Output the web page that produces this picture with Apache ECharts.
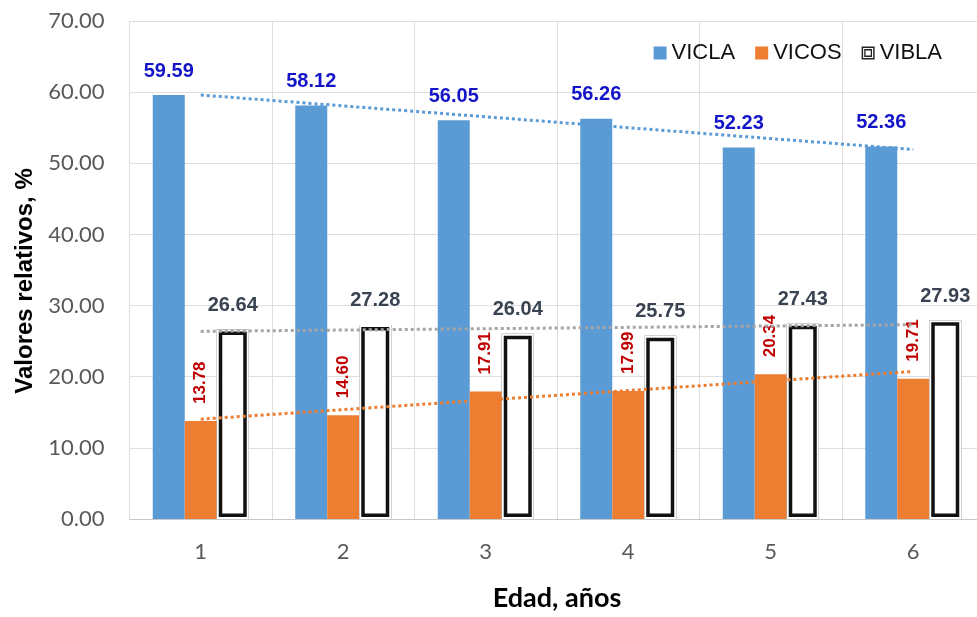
<!DOCTYPE html>
<html><head><meta charset="utf-8">
<script src="https://cdn.jsdelivr.net/npm/echarts@6/dist/echarts.min.js"></script>
<style>html,body{margin:0;padding:0;background:#fff;overflow:hidden;width:977px;height:617px}#c{width:985px;height:617px}</style>
</head><body><div id="c"></div>
<script>
const categories = ['1', '2', '3', '4', '5', '6'];
const vicla = [59.59, 58.12, 56.05, 56.26, 52.23, 52.36];
const vicos = [13.78, 14.60, 17.91, 17.99, 20.34, 19.71];
const vibla = [26.64, 27.28, 26.04, 25.75, 27.43, 27.93];
const seriesNames = ['VICLA', 'VICOS', 'VIBLA'];
const yTickValues = [0, 10, 20, 30, 40, 50, 60, 70];
const xTitle = 'Edad, años';
const yTitle = 'Valores relativos, %';

// Excel-style linear trendline (least squares) evaluated at each category
function linearTrend(vals) {
  const n = vals.length;
  const xs = vals.map((_, i) => i + 1);
  const mx = xs.reduce((a, b) => a + b, 0) / n;
  const my = vals.reduce((a, b) => a + b, 0) / n;
  let sxy = 0, sxx = 0;
  for (let i = 0; i < n; i++) { sxy += (xs[i] - mx) * (vals[i] - my); sxx += (xs[i] - mx) * (xs[i] - mx); }
  const b = sxy / sxx, a = my - b * mx;
  return xs.map(x => a + b * x);
}

const LBL = "'Liberation Sans Narrow','Arial Narrow','Liberation Sans',Arial,sans-serif";
const SANS = "'Liberation Sans',Arial,sans-serif";
const HUMAN = "Lato,'Open Sans',sans-serif";
const BLUE = '#5B9BD5', ORANGE = '#ED7D31', GRAY = '#A5A5A5';
const BAR_W = 32;

const chart = echarts.init(document.getElementById('c'), null, {renderer: 'canvas'});
chart.setOption({
  animation: false,
  backgroundColor: '#fff',
  grid: {left: 129.5, right: 0.5, top: 21, bottom: 95.5, containLabel: false},
  legend: {
    right: 38, top: 37,
    itemWidth: 13, itemHeight: 13, itemGap: 20,
    textStyle: {fontFamily: SANS, fontSize: 22, color: '#111'},
    data: [
      {name: 'VICLA', icon: 'rect'},
      {name: 'VICOS', icon: 'rect'},
      {name: 'VIBLA', icon: 'path://M0,0H18V18H0Z M2,2V16H16V2Z M3.6,3.6H14.4V14.4H3.6Z M5.4,5.4V12.6H12.6V5.4Z',
       itemStyle: {color: '#222', borderWidth: 0}}
    ]
  },
  xAxis: [{
    type: 'category', data: categories,
    name: xTitle, nameLocation: 'middle', nameGap: 66,
    nameTextStyle: {fontFamily: HUMAN, fontWeight: 'bold', fontSize: 27, color: '#000'},
    axisLine: {lineStyle: {color: '#C8C8C8', width: 1}},
    axisTick: {show: false},
    axisLabel: {fontFamily: HUMAN, fontSize: 22, color: '#595959', margin: 22},
    splitLine: {show: true, interval: 0, lineStyle: {color: '#DEDEDE', width: 1}}
  }, {
    type: 'category', data: categories, show: false, gridIndex: 0
  }],
  yAxis: {
    type: 'value', min: 0, max: 70, interval: 10,
    name: yTitle, nameLocation: 'middle', nameRotate: 90, nameGap: 92,
    nameTextStyle: {fontFamily: SANS, fontWeight: 'bold', fontSize: 24, color: '#000', padding: [0, 22, 0, 0]},
    axisLine: {show: false}, axisTick: {show: false},
    axisLabel: {fontFamily: HUMAN, fontSize: 22, color: '#595959', margin: 25,
      formatter: v => (yTickValues.includes(v) ? v.toFixed(2) : '')},
    splitLine: {lineStyle: {color: '#DEDEDE', width: 1}}
  },
  series: [
    {name: 'VICLA', type: 'bar', xAxisIndex: 0, data: vicla, barWidth: BAR_W, barGap: '0%',
     itemStyle: {color: BLUE},
     label: {show: true, position: 'top', distance: 14, formatter: p => p.value.toFixed(2),
       fontFamily: LBL, fontWeight: 'bold', fontSize: 20, color: '#1414C8'}},
    {name: 'VICOS', type: 'bar', xAxisIndex: 0, data: vicos, barWidth: BAR_W, barGap: '0%',
     itemStyle: {color: ORANGE},
     label: {show: true, position: 'top', rotate: 90, align: 'left', verticalAlign: 'middle', distance: 17,
       formatter: p => p.value.toFixed(2),
       fontFamily: LBL, fontWeight: 'bold', fontSize: 17, color: '#C00000'}},
    {name: 'VIBLA', type: 'bar', xAxisIndex: 0, data: vibla, barWidth: BAR_W, barGap: '0%',
     itemStyle: {color: '#fff', borderColor: '#111', borderWidth: 5.5},
     label: {show: true, position: 'top', distance: 14, formatter: p => p.value.toFixed(2),
       fontFamily: LBL, fontWeight: 'bold', fontSize: 20, color: '#3A4352'}},
    // overlay series on a hidden twin axis to produce the double (compound) outline
    {name: 'padA', type: 'bar', xAxisIndex: 1, data: vicla, barWidth: BAR_W, barGap: '0%', silent: true,
     itemStyle: {color: 'rgba(0,0,0,0)'}},
    {name: 'padB', type: 'bar', xAxisIndex: 1, data: vicos, barWidth: BAR_W, barGap: '0%', silent: true,
     itemStyle: {color: 'rgba(0,0,0,0)'}},
    {name: 'VIBLA-inner', type: 'bar', xAxisIndex: 1, data: vibla, barWidth: BAR_W, barGap: '0%', silent: true,
     itemStyle: {color: 'rgba(0,0,0,0)', borderColor: '#fff', borderWidth: 2}},
    {name: 'Lineal (VICLA)', type: 'line', xAxisIndex: 0, data: linearTrend(vicla), symbol: 'none', z: 5,
     lineStyle: {type: 'dotted', width: 3, color: BLUE}},
    {name: 'Lineal (VICOS)', type: 'line', xAxisIndex: 0, data: linearTrend(vicos), symbol: 'none', z: 5,
     lineStyle: {type: 'dotted', width: 3, color: ORANGE}},
    {name: 'Lineal (VIBLA)', type: 'line', xAxisIndex: 0, data: linearTrend(vibla), symbol: 'none', z: 5,
     lineStyle: {type: 'dotted', width: 3, color: GRAY}}
  ]
});
</script>
</body></html>
